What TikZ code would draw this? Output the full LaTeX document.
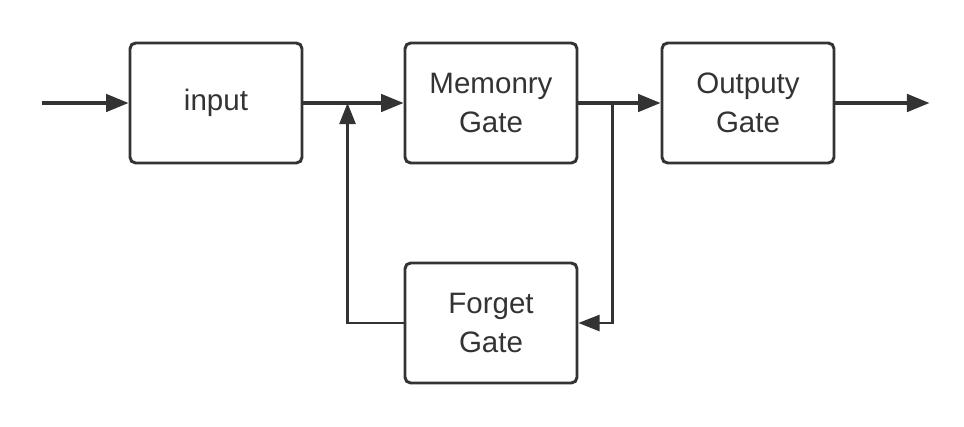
\documentclass[tikz,border=0pt]{standalone}
\usepackage{fontspec}
\setmainfont{Liberation Sans}
\usetikzlibrary{arrows,
                  calc,
                  positioning,
                  arrows.meta}
\definecolor{gatecolor}{HTML}{333333}

\begin{document}
\begin{tikzpicture}[auto, every node/.style={font=\fontsize{21}{28}\selectfont, text=gatecolor}]
    \tikzset{
    block/.style= {draw=gatecolor, rectangle,rounded corners=4pt, line width=2.1pt, align=center,minimum width=4.3cm,minimum height=3cm, inner sep=0pt},
    line/.style = {draw=gatecolor, line width=2.2pt, -{Triangle[length=16pt,width=12.5pt]}},
    fbline/.style = {draw=gatecolor, line width=1.5pt, -{Triangle[length=15pt,width=11.5pt]}}
}
\useasboundingbox (0,0) rectangle (24.1,-10.65);
\node [block] (input) at (5.4,-2.575) {input};
\node [block, right of=input, node distance=6.875cm] (memgate) {Memonry\\Gate};
\node [block, right of=memgate, node distance=6.425cm] (outgate) {Outputy\\Gate};
\node [block, below of=memgate, node distance=5.5cm] (forgetgate) {Forget\\Gate};

\node [coordinate,left=2.175cm of input] (start) {};
\node [coordinate,right=2.35cm of outgate] (finish) {};
\node [coordinate,left=1.4cm of memgate] (join) {};
\node [coordinate,right=0.85cm of memgate] (split) {};

\path [line] (start) -- (input);
\path [line] (input) -- (memgate);
\path [line] (memgate) -- (outgate);
\path [line] (outgate) -- (finish);
\path [fbline] (split) |- (forgetgate);
\path [fbline] (forgetgate) -| (join);

\end{tikzpicture}
\end{document}
